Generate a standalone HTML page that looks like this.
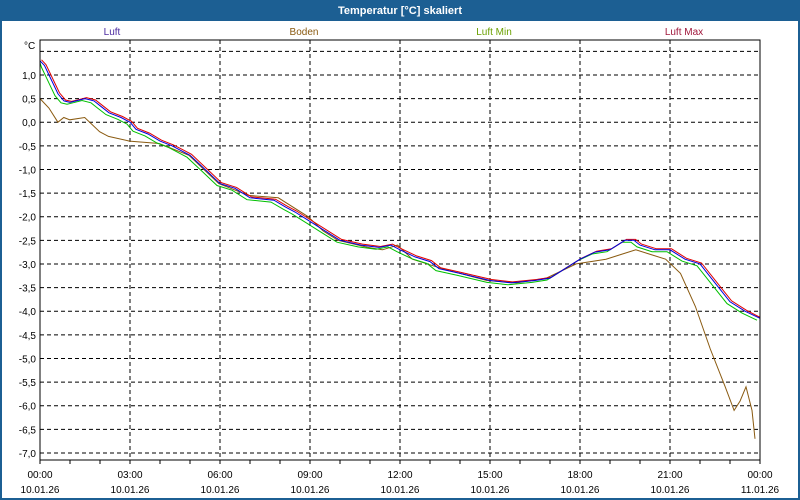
<!DOCTYPE html>
<html><head><meta charset="utf-8"><style>
html,body{margin:0;padding:0;background:#fff}
#w{position:relative;width:796px;height:496px;border:2px solid #1c5f93;background:#fff;font-family:"Liberation Sans",sans-serif;font-size:10px;overflow:hidden}
#t{position:absolute;left:0;top:0;width:796px;height:19px;background:#1c5f93;color:#fff;font-weight:bold;font-size:11px;text-align:center;line-height:18px}
</style></head><body><div id="w"><div id="t">Temperatur [°C] skaliert</div>
<svg id="s" width="796" height="478" style="position:absolute;left:0;top:19px" font-family="Liberation Sans, sans-serif" font-size="10"></svg></div>
<script>
var s=document.getElementById('s'),o='';
var L=38,R=758,T=19,B=439;
function X(h){return L+h*30}
function Y(v){return 101.2-v*47.25}
[['Luft',110,'#4b2aa0'],['Boden',302,'#8a5a10'],['Luft Min',492,'#6aa000'],['Luft Max',682,'#a0183c']].forEach(function(a){o+='<text x="'+a[1]+'" y="14" fill="'+a[2]+'" text-anchor="middle">'+a[0]+'</text>'});
o+='<text x="22" y="28" fill="#000">°C</text>';
for(var v=1.5;v>-7.01;v-=0.5){var y=Y(v);o+='<line x1="'+L+'" x2="'+R+'" y1="'+y+'" y2="'+y+'" stroke="#000" stroke-dasharray="4,3"/>';
if(v<1.4)o+='<text x="34" y="'+(y+4)+'" text-anchor="end">'+v.toFixed(1).replace('.',',').replace('-0,0','0,0')+'</text>';}
for(var i=1;i<8;i++)o+='<line x1="'+X(i*3)+'" x2="'+X(i*3)+'" y1="'+T+'" y2="'+B+'" stroke="#000" stroke-dasharray="4,3"/>';
for(var i=0;i<=24;i++)o+='<line x1="'+X(i)+'" x2="'+X(i)+'" y1="'+B+'" y2="'+(B+4)+'" stroke="#000"/>';
var tl=['00:00','03:00','06:00','09:00','12:00','15:00','18:00','21:00','00:00'];
for(var i=0;i<9;i++){o+='<text x="'+X(i*3)+'" y="'+(B+18)+'" text-anchor="middle">'+tl[i]+'</text><text x="'+X(i*3)+'" y="'+(B+33)+'" text-anchor="middle">'+(i==8?'11.01.26':'10.01.26')+'</text>';}
var luft=[[0,1.3],[.15,1.2],[.3,1.0],[.45,.8],[.6,.6],[.8,.45],[1,.42],[1.2,.45],[1.5,.5],[1.8,.45],[2,.35],[2.3,.2],[2.7,.1],[3,0],[3.2,-.15],[3.6,-.25],[4,-.4],[4.4,-.5],[4.7,-.6],[5,-.7],[5.5,-1],[6,-1.3],[6.5,-1.4],[7,-1.6],[7.8,-1.65],[8.2,-1.8],[8.5,-1.9],[9,-2.1],[9.5,-2.3],[10,-2.5],[10.7,-2.6],[11.3,-2.65],[11.7,-2.6],[12,-2.7],[12.5,-2.85],[13,-2.95],[13.3,-3.1],[14,-3.2],[15,-3.35],[15.7,-3.4],[16.5,-3.35],[17,-3.3],[17.5,-3.1],[18,-2.9],[18.5,-2.75],[19,-2.7],[19.5,-2.5],[19.8,-2.5],[20,-2.6],[20.5,-2.7],[21,-2.7],[21.5,-2.9],[22,-3.0],[22.5,-3.4],[23,-3.8],[23.5,-4.0],[24,-4.15]];
var boden=[[0,.5],[.3,.3],[.6,0],[.8,.1],[1,.05],[1.5,.1],[2,-.2],[2.3,-.3],[3,-.4],[4,-.45],[5,-.7],[6,-1.3],[7,-1.55],[8,-1.6],[9,-2.0],[9.5,-2.3],[10,-2.5],[11,-2.65],[11.5,-2.7],[12,-2.6],[12.5,-2.9],[13.5,-3.1],[15,-3.35],[16,-3.4],[17,-3.3],[18,-3.0],[19,-2.9],[19.5,-2.8],[20,-2.7],[20.5,-2.8],[21,-2.9],[21.5,-3.2],[22,-3.9],[22.5,-4.8],[23,-5.6],[23.3,-6.1],[23.5,-5.9],[23.7,-5.6],[23.9,-6.1],[24,-6.7]];
function pl(d,dx,dv,c,sh){var p=d.map(function(a){var h=Math.min(24,Math.max(0,a[0]+dx));return X(h*sh).toFixed(1)+','+Y(a[1]+dv).toFixed(1)}).join(' ');o+='<polyline points="'+p+'" fill="none" stroke="'+c+'" stroke-width="1"/>'}
pl(boden,0,0,'#8a5a10',0.993);
pl(luft,-0.1,-0.04,'#00c000',1);
pl(luft,0.05,0.02,'#e00000',1);
pl(luft,0,0,'#0000e0',1);
o+='<rect x="'+L+'" y="'+T+'" width="'+(R-L)+'" height="'+(B-T)+'" fill="none" stroke="#000"/>';
s.innerHTML=o;
</script></body></html>
